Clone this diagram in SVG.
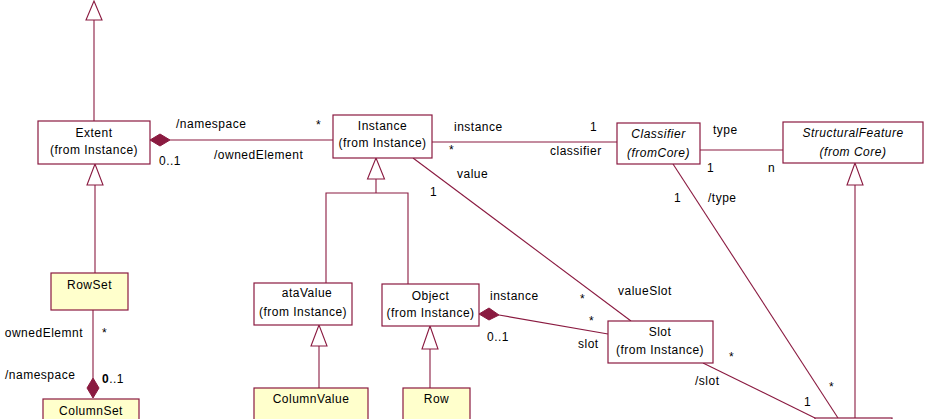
<svg xmlns="http://www.w3.org/2000/svg" width="925" height="419" viewBox="0 0 925 419">
<defs>
<style>
.box{fill:#fff;stroke:#8a1a40;stroke-width:1.2}
.ybox{fill:#ffffcc;stroke:#8a1a40;stroke-width:1.2}
.ln{fill:none;stroke:#8a1a40;stroke-width:1.1}
.tri{fill:#fff;stroke:#8a1a40;stroke-width:1.1}
.dia{fill:#8a1a40;stroke:#8a1a40;stroke-width:1}
text{font-family:"Liberation Sans",Arial,sans-serif;font-size:12px;fill:#000;letter-spacing:0.5px}
.c{text-anchor:middle}
.i{font-style:italic}
</style>
</defs>
<g id="connectors">
<!-- Extent generalization up -->
<line class="ln" x1="94" y1="20" x2="94" y2="121"/>
<polygon class="tri" points="94,1 86,20 102,20"/>
<!-- RowSet -> Extent -->
<line class="ln" x1="95" y1="185" x2="95" y2="273"/>
<polygon class="tri" points="95,164 87,185 103,185"/>
<!-- Extent - Instance composition -->
<line class="ln" x1="170" y1="140" x2="333" y2="140"/>
<polygon class="dia" points="150,140 160,134 170,140 160,146"/>
<!-- Instance - Classifier -->
<line class="ln" x1="432" y1="142" x2="617" y2="142"/>
<!-- Classifier - StructuralFeature -->
<line class="ln" x1="700" y1="150" x2="783" y2="150"/>
<!-- Instance generalization -->
<polygon class="tri" points="376,158 367.5,179 384.5,179"/>
<polyline class="ln" points="376,179 376,193"/>
<polyline class="ln" points="326,283 326,193 408,193 408,284"/>
<!-- ataValue -> ColumnValue -->
<line class="ln" x1="319" y1="346" x2="319" y2="388"/>
<polygon class="tri" points="319,325 311,346 327,346"/>
<!-- Object -> Row -->
<line class="ln" x1="430" y1="349" x2="430" y2="388"/>
<polygon class="tri" points="430,326 422,349 438,349"/>
<!-- Instance - Slot (value) -->
<line class="ln" x1="413" y1="158" x2="631" y2="321"/>
<!-- Object - Slot composition -->
<line class="ln" x1="499" y1="315" x2="608" y2="334"/>
<polygon class="dia" points="479,314 489,308 499,315 489,320"/>
<!-- Classifier /type -->
<line class="ln" x1="673" y1="164" x2="838" y2="418"/>
<!-- Slot /slot -->
<line class="ln" x1="703" y1="363" x2="815" y2="418"/>
<!-- StructuralFeature generalization -->
<line class="ln" x1="855" y1="185" x2="855" y2="418"/>
<polygon class="tri" points="855,163 847,185 863,185"/>
<!-- RowSet - ColumnSet composition -->
<line class="ln" x1="93" y1="310" x2="93" y2="378"/>
<polygon class="dia" points="93,378 99,388 93,398 87,388"/>
</g>
<g id="labels">
<text x="176" y="128">/namespace</text>
<text x="316" y="129">*</text>
<text x="214" y="159">/ownedElement</text>
<text x="159" y="165">0..1</text>
<text x="454" y="131">instance</text>
<text x="590" y="131">1</text>
<text x="449" y="154">*</text>
<text x="550" y="155">classifier</text>
<text x="457" y="178">value</text>
<text x="430" y="196">1</text>
<text x="713" y="134">type</text>
<text x="707" y="172">1</text>
<text x="768" y="172">n</text>
<text x="674" y="202">1</text>
<text x="708" y="202">/type</text>
<text x="490" y="300">instance</text>
<text x="487" y="341">0..1</text>
<text x="580" y="303">*</text>
<text x="589" y="325">*</text>
<text x="578" y="348">slot</text>
<text x="618" y="295">valueSlot</text>
<text x="729" y="361">*</text>
<text x="695" y="385">/slot</text>
<text x="829" y="391">*</text>
<text x="804" y="406">1</text>
<text x="83" y="337" text-anchor="end">ownedElemnt</text>
<text x="102" y="337">*</text>
<text x="5" y="379">/namespace</text>
<text x="102" y="383"><tspan font-weight="bold">0</tspan>..1</text>
</g>
<g id="Extent">
<rect class="box" x="38" y="121" width="112" height="43"/>
<text class="c" x="94" y="137">Extent</text>
<text class="c" x="94" y="154">(from Instance)</text>
</g>
<g id="Instance">
<rect class="box" x="333" y="115" width="99" height="43"/>
<text class="c" x="382.5" y="130">Instance</text>
<text class="c" x="382.5" y="147">(from Instance)</text>
</g>
<g id="Classifier">
<rect class="box" x="617" y="123" width="83" height="41"/>
<text class="c i" x="658.5" y="138">Classifier</text>
<text class="c i" x="658.5" y="157">(fromCore)</text>
</g>
<g id="StructuralFeature">
<rect class="box" x="783" y="122" width="140" height="41"/>
<text class="c i" x="853" y="137">StructuralFeature</text>
<text class="c i" x="853" y="156">(from Core)</text>
</g>
<g id="ataValue">
<rect class="box" x="254" y="283" width="98" height="42"/>
<text class="c" x="307" y="297">ataValue</text>
<text class="c" x="303" y="316">(from Instance)</text>
</g>
<g id="Object">
<rect class="box" x="382" y="284" width="97" height="42"/>
<text class="c" x="430.5" y="300">Object</text>
<text class="c" x="430.5" y="317">(from Instance)</text>
</g>
<g id="Slot">
<rect class="box" x="608" y="321" width="105" height="42"/>
<text class="c" x="660" y="336">Slot</text>
<text class="c" x="660" y="354">(from Instance)</text>
</g>
<g id="RowSet">
<rect class="ybox" x="51" y="273" width="77" height="37"/>
<text class="c" x="89.5" y="289">RowSet</text>
</g>
<g id="ColumnSet">
<rect class="ybox" x="43" y="399" width="96" height="30"/>
<text class="c" x="91" y="415">ColumnSet</text>
</g>
<g id="ColumnValue">
<rect class="ybox" x="254" y="388" width="114" height="40"/>
<text class="c" x="311" y="403">ColumnValue</text>
</g>
<g id="Row">
<rect class="ybox" x="403" y="388" width="67" height="40"/>
<text class="c" x="436.5" y="403">Row</text>
</g>
<g id="Bottom">
<rect class="box" x="815" y="418" width="77" height="20"/>
</g>
</svg>
